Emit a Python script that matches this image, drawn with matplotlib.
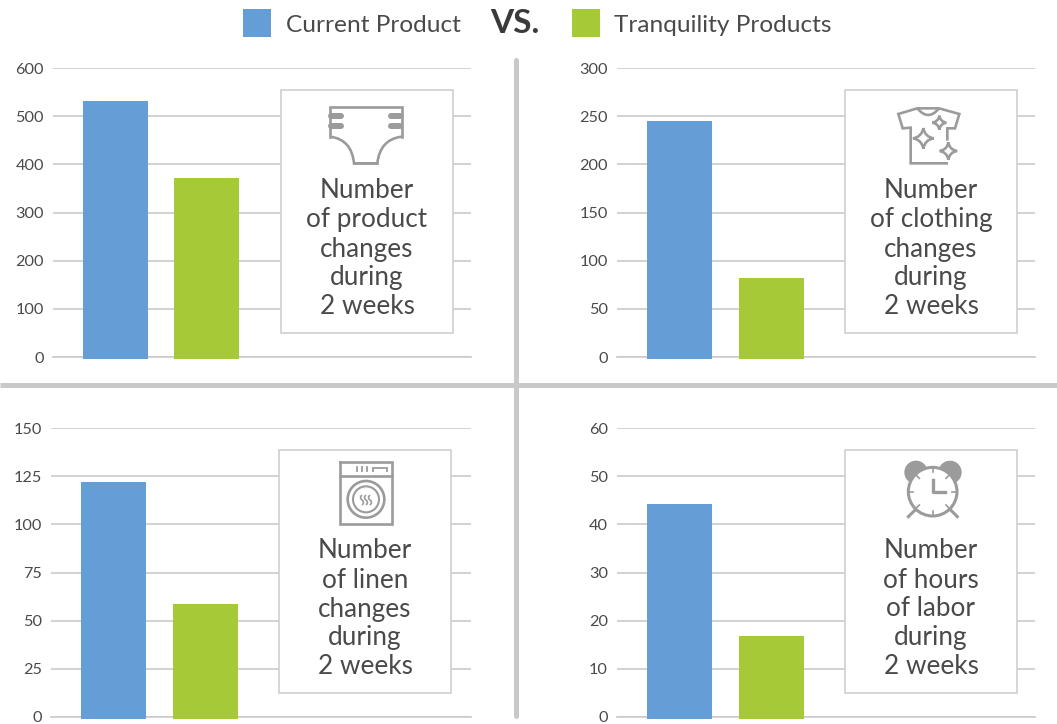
import matplotlib
matplotlib.use('Agg')
import matplotlib.pyplot as plt
from matplotlib.patches import Rectangle, Circle, PathPatch
from matplotlib.path import Path

W, H = 1057, 724

series_names = ['Current Product', 'Tranquility Products']
current = [531, 245, 122, 44.3]
tranquility = [372, 82, 58.5, 16.8]
ymaxes = [600, 300, 150, 60]
ysteps = [100, 50, 25, 10]
captions = [
    'Number\nof product\nchanges\nduring\n2 weeks',
    'Number\nof clothing\nchanges\nduring\n2 weeks',
    'Number\nof linen\nchanges\nduring\n2 weeks',
    'Number\nof hours\nof labor\nduring\n2 weeks',
]

BLUE = '#659ed7'
GREEN = '#a6ca37'
GRID = '#cbcbcb'
ICON = '#9b9b9b'
TEXT = '#4a4a4a'

plt.rcParams['font.family'] = ['Lato', 'DejaVu Sans']

fig = plt.figure(figsize=(W / 100, H / 100), dpi=100)

# pixel boxes: grid left, grid right, top gridline, zero line, first bar left, bar step, box left
panels = [
    (53, 471, 68, 357, 83, 91, 281),
    (617, 1035, 68, 357, 647, 92, 845),
    (51, 471, 428, 717, 81, 92, 279),
    (617, 1035, 428, 717, 647, 92, 845),
]
BAR_W = 65

for i, (x0, x1, ytop, ybot, bar0, unit, _) in enumerate(panels):
    ax = fig.add_axes([x0 / W, 1 - ybot / H, (x1 - x0) / W, (ybot - ytop) / H])
    left = -(bar0 + BAR_W / 2 - x0) / unit
    ax.set_xlim(left, left + (x1 - x0) / unit)
    ax.set_ylim(0, ymaxes[i])
    colors = [BLUE, GREEN]
    vals = [current[i], tranquility[i]]
    # bars run a little past the zero line in the original
    drop = ymaxes[i] * 2 / (ybot - ytop)
    ax.bar([0, 1], [v + drop for v in vals], BAR_W / unit, bottom=-drop, color=colors,
           zorder=3, clip_on=False)
    ax.set_yticks(range(0, ymaxes[i] + 1, ysteps[i]))
    ax.grid(True, axis='y', color=GRID, linewidth=1.2, zorder=1)
    ax.set_xticks([])
    for s in ['top', 'right', 'left']:
        ax.spines[s].set_visible(False)
    ax.spines['bottom'].set_color(GRID)
    ax.spines['bottom'].set_linewidth(1.2)
    ax.tick_params(axis='y', length=0, labelsize=11.7, labelcolor=TEXT, pad=6.5)
    ax.patch.set_alpha(0)

# overlay in pixel coordinates for dividers, boxes, icons and the legend
ov = fig.add_axes([0, 0, 1, 1], zorder=5)
ov.set_xlim(0, W)
ov.set_ylim(H, 0)
ov.axis('off')
ov.patch.set_alpha(0)

ov.plot([516, 516], [60, 716], color='#c9c9c9', lw=3.6, solid_capstyle='round')
ov.plot([0, W], [385, 385], color='#c9c9c9', lw=3.6, solid_capstyle='butt')

for i, p in enumerate(panels):
    bx = p[6]
    by = p[2] + 22
    ov.add_patch(Rectangle((bx, by), 172, 243, fc='white', ec='#d0d0d0', lw=1.2, zorder=2))
    ov.text(bx + 86, by + 159, captions[i], ha='center', va='center', fontsize=18.8,
            color=TEXT, linespacing=1.2, zorder=3)


def line(ox, oy, pts, lw=1.9, **kw):
    xs = [ox + a / 3 for a, b in pts]
    ys = [oy + b / 3 for a, b in pts]
    ov.plot(xs, ys, color=ICON, lw=lw, zorder=4, solid_joinstyle='miter', **kw)


def curve(ox, oy, verts, codes, lw=1.9):
    v = [(ox + a / 3, oy + b / 3) for a, b in verts]
    ov.add_patch(PathPatch(Path(v, codes), fc='none', ec=ICON, lw=lw, zorder=4))


def sparkle(ox, oy, cx, cy, r):
    # concave four-point star
    k = 0.14 * r
    v = [(cx, cy - r), (cx + k, cy - k), (cx + r, cy),
         (cx + k, cy + k), (cx, cy + r),
         (cx - k, cy + k), (cx - r, cy),
         (cx - k, cy - k), (cx, cy - r)]
    codes = [Path.MOVETO] + [Path.CURVE3] * 8
    curve(ox, oy, v, codes)


# diaper
ox, oy = 270, 80
line(ox, oy, [(180, 170), (180, 82), (395, 82), (395, 170)])
curve(ox, oy, [(180, 170), (245, 178), (252, 250), (322, 250), (330, 178), (395, 170)],
      [Path.MOVETO, Path.CURVE3, Path.CURVE3, Path.LINETO, Path.CURVE3, Path.CURVE3])
line(ox, oy, [(252, 250), (322, 250)])
for ty in (108, 137):
    ov.plot([ox + 184 / 3, ox + 212 / 3], [oy + ty / 3] * 2, color=ICON, lw=4.3, zorder=4,
            solid_capstyle='round')
    ov.plot([ox + 363 / 3, ox + 391 / 3], [oy + ty / 3] * 2, color=ICON, lw=4.3, zorder=4,
            solid_capstyle='round')

# shirt
ox, oy = 840, 80
line(ox, oy, [(322, 178), (322, 145), (345, 145), (358, 102), (297, 85), (232, 85), (175, 102),
              (188, 145), (212, 143), (212, 250), (320, 250)])
curve(ox, oy, [(232, 85), (265, 125), (297, 85)], [Path.MOVETO, Path.CURVE3, Path.CURVE3])
sparkle(ox, oy, 298, 128, 21)
sparkle(ox, oy, 250, 175, 31)
sparkle(ox, oy, 325, 213, 26)

# washing machine
ox, oy = 270, 445
line(ox, oy, [(210, 50), (365, 50), (365, 238), (210, 238), (210, 50)])
line(ox, oy, [(210, 92), (365, 92)])
ov.add_patch(Circle((ox + 288 / 3, oy + 163 / 3), 55 / 3, fc='none', ec=ICON, lw=1.9, zorder=4))
ov.add_patch(Circle((ox + 288 / 3, oy + 163 / 3), 39 / 3, fc='none', ec=ICON, lw=1.5, zorder=4))
for sx in (276, 288, 300):
    curve(ox, oy, [(sx, 150), (sx - 9, 158), (sx, 165), (sx + 9, 172), (sx, 180)],
          [Path.MOVETO, Path.CURVE3, Path.CURVE3, Path.CURVE3, Path.CURVE3], lw=1.2)
for mx in (262, 276, 290):
    line(ox, oy, [(mx, 65), (mx, 77)], lw=1.3)
line(ox, oy, [(308, 77), (308, 68), (350, 68), (350, 77)], lw=1.3)

# alarm clock
ox, oy = 840, 445
for ex in (228, 330):
    ov.add_patch(Circle((ox + ex / 3, oy + 82 / 3), 35 / 3, fc=ICON, ec='none', zorder=4))
ov.add_patch(Circle((ox + 278 / 3, oy + 140 / 3), 73 / 3, fc='white', ec=ICON, lw=2.2, zorder=5))
hands = [(278, 105), (278, 142), (314, 142)]
ov.plot([ox + a / 3 for a, b in hands], [oy + b / 3 for a, b in hands], color=ICON, lw=2.4, zorder=6)
for a, b, c, d in [(278, 68, 278, 82), (278, 198, 278, 212), (206, 140, 220, 140), (336, 140, 350, 140),
                   (228, 90, 238, 100), (318, 180, 328, 190), (328, 90, 318, 100), (238, 180, 228, 190)]:
    ov.plot([ox + a / 3, ox + c / 3], [oy + b / 3, oy + d / 3], color=ICON, lw=1.2, zorder=6)
line(ox, oy, [(205, 215), (238, 183)], lw=2.2)
line(ox, oy, [(352, 215), (320, 183)], lw=2.2)

# legend header
ov.add_patch(Rectangle((243, 9), 28, 28, fc=BLUE, ec='none'))
ov.add_patch(Rectangle((572, 9), 28, 28, fc=GREEN, ec='none'))
ov.text(286, 25, series_names[0], ha='left', va='center', fontsize=17.6, color=TEXT)
ov.text(614, 25, series_names[1], ha='left', va='center', fontsize=17.6, color=TEXT)
ov.text(490, 23.5, 'VS.', ha='left', va='center', fontsize=24, color='#3a3a3a', fontweight='bold')

fig.savefig('out.png', dpi=100)
